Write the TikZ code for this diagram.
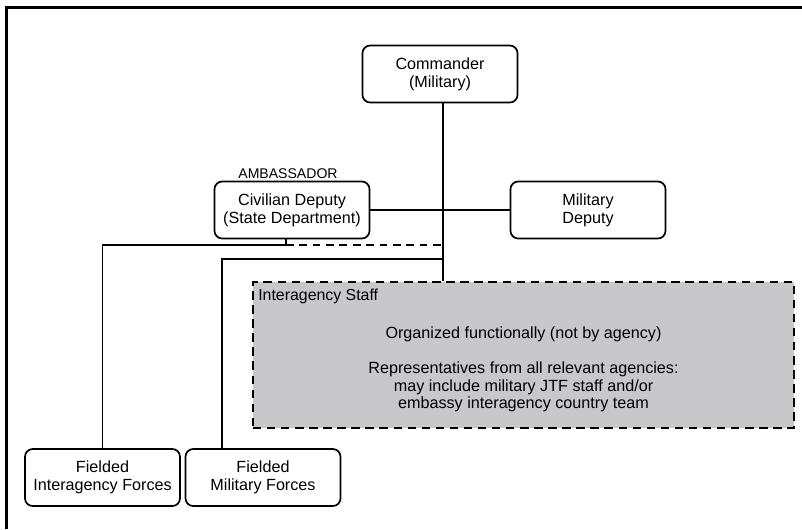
\documentclass[tikz,border=0pt]{standalone}
\usepackage{fontspec}
\setmainfont{Liberation Sans}
\usetikzlibrary{calc}
\definecolor{staffgray}{RGB}{200,200,202}

\begin{document}
\begin{tikzpicture}[x=0.025cm, y=-0.025cm,
		box/.style={draw, line width=1.2pt, rounded corners=5.5pt, align=center,
			minimum width=3.875cm, minimum height=1.425cm, inner sep=0pt,
			font=\fontsize{11.5}{12.8}\selectfont},
		staffbox/.style={draw, line width=2pt, dash pattern=on 6pt off 4pt,
			fill=staffgray, minimum width=13.525cm, minimum height=3.65cm, inner sep=0pt},
		link/.style={line width=1.3pt}]
		%%%%% START %%%%%
		
		\useasboundingbox (0, 0) rectangle (802, 529);
		\draw[line width=2.1pt] (6.5, 529) -- (6.5, 7.5) -- (802, 7.5);
		
		\node[box] (cmd) at (440, 74) {Commander\\(Military)};
		\node[box] (civ) at (292, 210) {Civilian Deputy\\(State Department)};
		\node[box] (mil) at (588, 210) {Military\\Deputy};
		\node[font=\fontsize{10}{11}\selectfont, anchor=south, inner sep=1.5pt] (amb) at ($(civ.north)+(-4, 0)$) {AMBASSADOR};
		
		\node[staffbox] (staff) at (523.5, 355) {};
		\node[anchor=north west, inner sep=0pt, font=\fontsize{11.3}{12.6}\selectfont] (stafflbl) at (258, 289) {Interagency Staff};
		\node[align=center, inner sep=0pt, font=\fontsize{11.5}{12.5}\selectfont] (stafftxt) at (523.5, 369.5)
			{Organized functionally (not by agency)\\[12.5pt]
			Representatives from all relevant agencies:\\
			may include military JTF staff and/or\\
			embassy interagency country team};
		
		\node[box] (fia) at (102.5, 477.5) {Fielded\\Interagency Forces};
		\node[box] (fmf) at (263, 477.5) {Fielded\\Military Forces};
		
		\coordinate (trunk) at ($(cmd.south)+(3, 0)$);
		\coordinate (j1) at (286, 245);
		\coordinate (j2) at (222, 259);
		
		\draw[link] (trunk) -- (trunk |- staff.north);
		\draw[link] (civ.east) -- (mil.west);
		\draw[link] (j1 |- civ.south) -- (j1) -| (fia.north);
		\draw[link, dash pattern=on 5.5pt off 4pt] (j1) -- (j1 -| trunk);
		\draw[link] (j2 -| trunk) -- (j2) -- (j2 |- fmf.north);
		
		%%%%% END %%%%%
\end{tikzpicture}
\end{document}
